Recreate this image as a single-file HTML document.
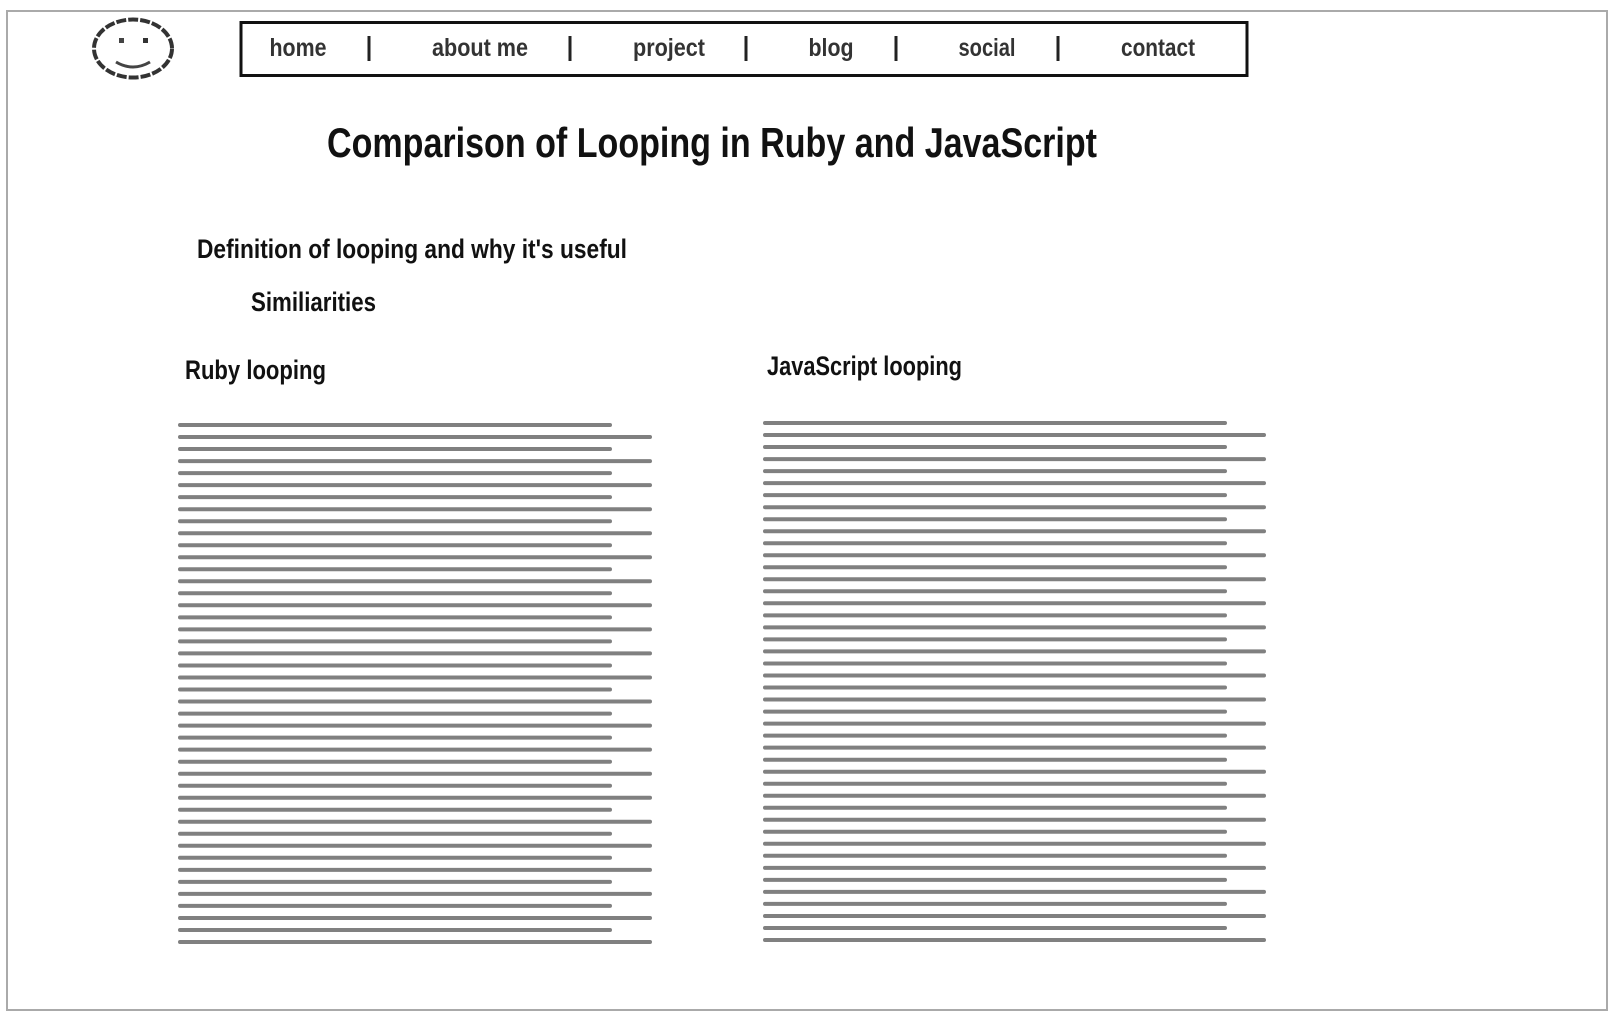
<!DOCTYPE html>
<html><head><meta charset="utf-8"><style>
html,body{margin:0;padding:0;background:#fff;}
svg{display:block;}
text{font-family:"Liberation Sans",sans-serif;font-weight:bold;fill:#111;}
</style></head><body>
<svg width="1616" height="1034" viewBox="0 0 1616 1034" xmlns="http://www.w3.org/2000/svg">
<rect x="7" y="11" width="1600" height="999" fill="#fff" stroke="#aaa" stroke-width="2"/>
<ellipse cx="133" cy="48.5" rx="39" ry="29" fill="none" stroke="#333" stroke-width="4" stroke-dasharray="10 2"/>
<rect x="119" y="38" width="5" height="5" fill="#444"/>
<rect x="143" y="38" width="5" height="5" fill="#333"/>
<path d="M116 62 Q133 72 150 62" fill="none" stroke="#444" stroke-width="3"/>
<rect x="241" y="22.5" width="1006" height="53" fill="#fff" stroke="#111" stroke-width="3"/>
<g font-size="25" text-anchor="middle">
<text x="298" y="56" textLength="57" lengthAdjust="spacingAndGlyphs" style="fill:#333">home</text>
<text x="480" y="56" textLength="96" lengthAdjust="spacingAndGlyphs" style="fill:#333">about me</text>
<text x="669" y="56" textLength="72" lengthAdjust="spacingAndGlyphs" style="fill:#333">project</text>
<text x="831" y="56" textLength="45" lengthAdjust="spacingAndGlyphs" style="fill:#333">blog</text>
<text x="987" y="56" textLength="57" lengthAdjust="spacingAndGlyphs" style="fill:#333">social</text>
<text x="1158" y="56" textLength="74" lengthAdjust="spacingAndGlyphs" style="fill:#333">contact</text>
</g>
<g stroke="#222" stroke-width="3">
<line x1="369" y1="36" x2="369" y2="61"/>
<line x1="570" y1="36" x2="570" y2="61"/>
<line x1="746" y1="36" x2="746" y2="61"/>
<line x1="896" y1="36" x2="896" y2="61"/>
<line x1="1058" y1="36" x2="1058" y2="61"/>
</g>
<text x="327" y="157" font-size="42" textLength="770" lengthAdjust="spacingAndGlyphs">Comparison of Looping in Ruby and JavaScript</text>
<text x="197" y="258" font-size="27" textLength="430" lengthAdjust="spacingAndGlyphs">Definition of looping and why it's useful</text>
<text x="251" y="311" font-size="27" textLength="125" lengthAdjust="spacingAndGlyphs">Similiarities</text>
<text x="185" y="379" font-size="27" textLength="141" lengthAdjust="spacingAndGlyphs">Ruby looping</text>
<text x="767" y="375" font-size="27" textLength="195" lengthAdjust="spacingAndGlyphs">JavaScript looping</text>
<g stroke="#808080" stroke-width="4" stroke-linecap="round" id="lines">
</g>
</svg>
<script>
(function(){
var g=document.getElementById('lines');var ns='http://www.w3.org/2000/svg';
function add(x1,x2,y){var l=document.createElementNS(ns,'line');l.setAttribute('x1',x1);l.setAttribute('x2',x2);l.setAttribute('y1',y);l.setAttribute('y2',y);g.appendChild(l);}
for(var i=0;i<44;i++){
 var y1=425+i*(517/43), y2=423+i*(517/43);
 add(180,(i%2==0)?610:650,y1.toFixed(1));
 add(765,(i%2==0)?1225:1264,y2.toFixed(1));
}
})();
</script>
</body></html>
